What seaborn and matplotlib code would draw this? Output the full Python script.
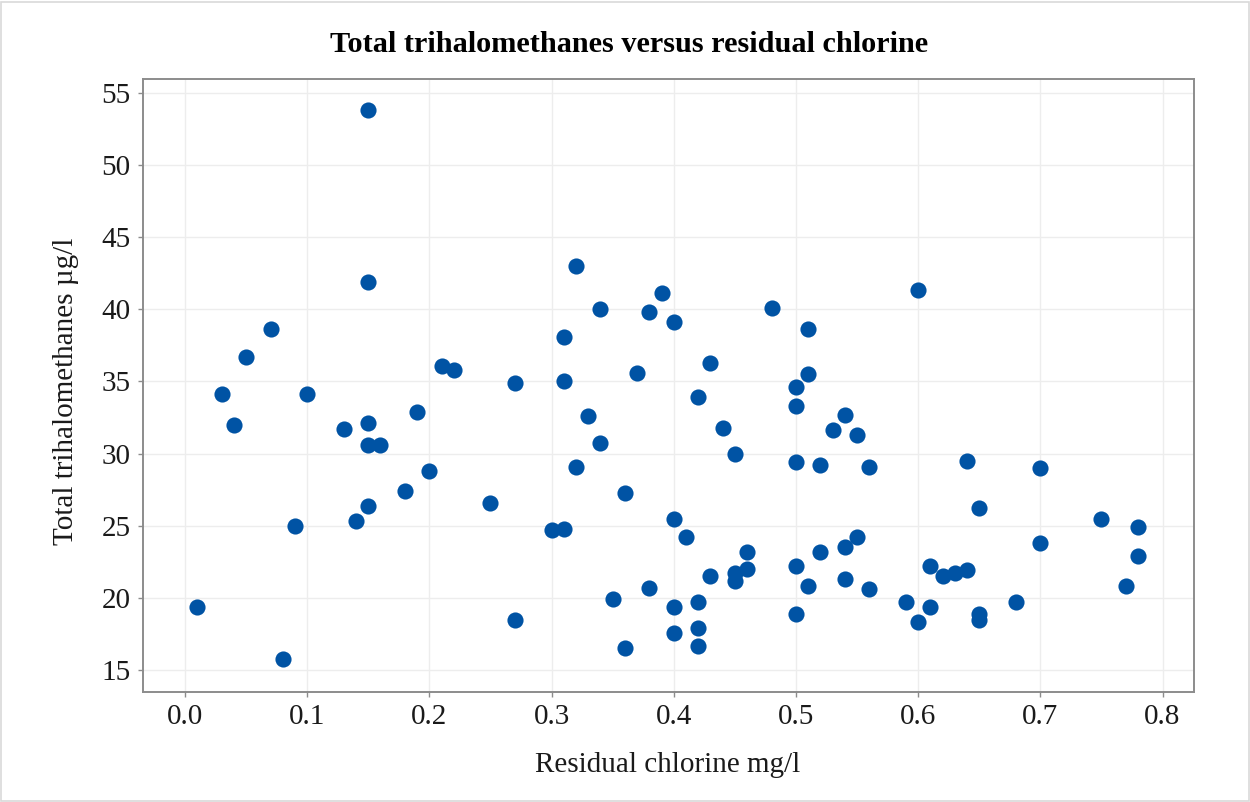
import matplotlib
matplotlib.use("Agg")
import matplotlib.pyplot as plt
from matplotlib.patches import Rectangle
import seaborn as sns
import pandas as pd

# Residual chlorine (mg/l) and total trihalomethanes (µg/l)
residual_chlorine = [
    0.01, 0.03, 0.04, 0.05, 0.07, 0.08, 0.09, 0.10, 0.13, 0.14,
    0.15, 0.15, 0.15, 0.15, 0.16, 0.15, 0.18, 0.19, 0.20, 0.21,
    0.22, 0.25, 0.27, 0.27,
    0.32, 0.34, 0.39, 0.38, 0.40, 0.48, 0.51, 0.31, 0.31, 0.37,
    0.43, 0.42, 0.51, 0.50, 0.50, 0.54, 0.53, 0.55, 0.33, 0.34,
    0.32, 0.44, 0.45, 0.50, 0.52, 0.56, 0.36, 0.40, 0.30, 0.31,
    0.41, 0.46, 0.46, 0.45, 0.45, 0.43, 0.38, 0.35, 0.40, 0.42,
    0.40, 0.42, 0.42, 0.36, 0.50, 0.52, 0.51, 0.50, 0.54, 0.55,
    0.54, 0.56,
    0.60, 0.64, 0.70, 0.65, 0.75, 0.78, 0.70, 0.78, 0.61, 0.62,
    0.63, 0.64, 0.77, 0.59, 0.61, 0.60, 0.65, 0.65, 0.68,
]
total_thm = [
    19.4, 34.1, 32.0, 36.7, 38.6, 15.8, 25.0, 34.1, 31.7, 25.3,
    53.8, 41.9, 32.1, 30.6, 30.6, 26.4, 27.4, 32.9, 28.8, 36.1,
    35.8, 26.6, 34.9, 18.5,
    43.0, 40.0, 41.1, 39.8, 39.1, 40.1, 38.6, 38.1, 35.0, 35.6,
    36.3, 33.9, 35.5, 34.6, 33.3, 32.7, 31.6, 31.3, 32.6, 30.7,
    29.1, 31.8, 30.0, 29.4, 29.2, 29.1, 27.3, 25.5, 24.7, 24.8,
    24.2, 23.2, 22.0, 21.7, 21.2, 21.5, 20.7, 19.9, 19.4, 19.7,
    17.6, 17.9, 16.7, 16.5, 22.2, 23.2, 20.8, 18.9, 23.5, 24.2,
    21.3, 20.6,
    41.3, 29.5, 29.0, 26.2, 25.5, 24.9, 23.8, 22.9, 22.2, 21.5,
    21.7, 21.9, 20.8, 19.7, 19.4, 18.3, 18.9, 18.5, 19.7,
]
x_ticks = [0.0, 0.1, 0.2, 0.3, 0.4, 0.5, 0.6, 0.7, 0.8]
y_ticks = [15, 20, 25, 30, 35, 40, 45, 50, 55]
title = "Total trihalomethanes versus residual chlorine"
x_label = "Residual chlorine mg/l"
y_label = "Total trihalomethanes µg/l"

df = pd.DataFrame({"chlorine": residual_chlorine, "thm": total_thm})

sns.set_theme(style="white")
plt.rcParams["font.family"] = ["Liberation Serif", "DejaVu Serif"]

W, H = 1250, 802
fig = plt.figure(figsize=(W / 100, H / 100), dpi=100)
fig.patch.set_facecolor("white")
ax_l, ax_r, ax_t, ax_b = 142.7, 1194.3, 79.3, 691.7
ax = fig.add_axes([ax_l / W, 1 - ax_b / H, (ax_r - ax_l) / W, (ax_b - ax_t) / H])

sns.scatterplot(data=df, x="chlorine", y="thm", color="#0053A4", s=135,
                linewidth=0, ax=ax, zorder=3)

ax.set_xlim(-0.0346, 0.826)
ax.set_ylim(13.5, 55.93)
ax.set_xticks(x_ticks)
ax.set_yticks(y_ticks)
ax.set_xticklabels([f"{v:.1f}" for v in x_ticks])
ax.set_yticklabels([str(v) for v in y_ticks])

ax.grid(True, color="#ededed", linewidth=1.0, zorder=0)
ax.set_axisbelow(True)
for sp in ax.spines.values():
    sp.set_color("#8c8c8c")
    sp.set_linewidth(1.4)

ax.tick_params(axis="both", which="major", direction="out", length=3.8,
               width=1.0, color="#8c8c8c", labelsize=21, labelcolor="#1a1a1a",
               bottom=True, left=True)
ax.tick_params(axis="x", pad=5)
ax.tick_params(axis="y", pad=5)

ax.set_xlabel(x_label, fontsize=21, color="#1a1a1a")
ax.set_ylabel(y_label, fontsize=21, color="#1a1a1a")
ax.xaxis.label.set_va("center")
ax.yaxis.label.set_va("center")
ax.xaxis.set_label_coords((667.5 - ax_l) / (ax_r - ax_l), -(765 - ax_b) / (ax_b - ax_t))
ax.yaxis.set_label_coords(-(ax_l - 66) / (ax_r - ax_l), 0.49)

fig.text(629 / W, 1 - 45 / H, title, ha="center", va="center",
         fontsize=21.8, fontweight="bold", color="black")

fig.add_artist(Rectangle((1.5 / W, 1.5 / H), 1 - 3 / W, 1 - 3 / H,
                         transform=fig.transFigure, fill=False,
                         edgecolor="#d9d9d9", linewidth=1.2))

fig.savefig("out.png", dpi=100, facecolor="white")
